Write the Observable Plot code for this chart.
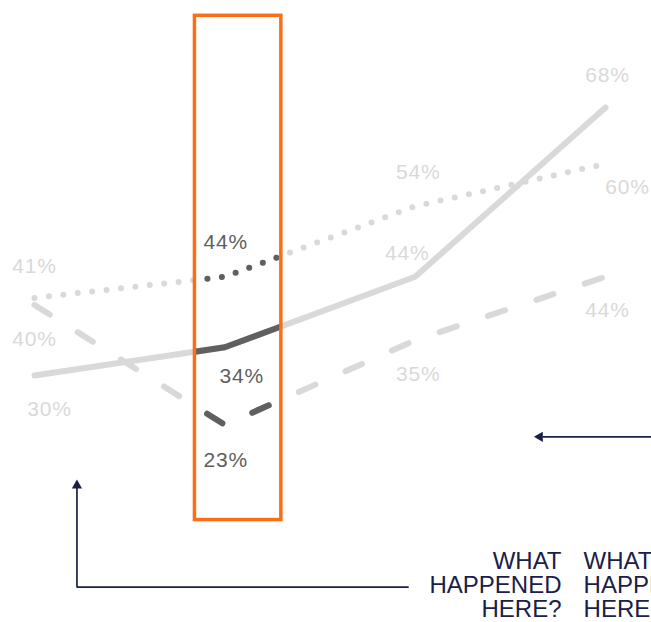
<!DOCTYPE html>
<html><head><meta charset="utf-8">
<script src="https://cdn.jsdelivr.net/npm/d3@7"></script>
<script src="https://cdn.jsdelivr.net/npm/@observablehq/plot@0.6"></script>
<style>
html,body{margin:0;padding:0;background:#fff;overflow:hidden;}
#chart svg{overflow:hidden;display:block;}
</style></head><body><div id="chart"></div>
<script>
// ---- data ----
const periods = [0, 1, 2, 3];
const solidValues = [30, 34, 44, 68];
const dottedValues = [41, 44, 54, 60];
const dashedValues = [40, 23, 35, 44];
const highlightPeriod = [0.843, 1.297];   // highlighted span (period units)
const highlightValue = [9.5, 81];          // vertical extent of highlight (% units)
const questionText = "WHAT\nHAPPENED\nHERE?";
// annotation arrows (period / % units)
const arrowRightPeriod = [3.3, 2.67];
const arrowRightValue = 21.3;
const arrowRightHead = 2.655;
const arrowLeftPeriod = 0.223;
const arrowLeftValue = [0, 14.4];
const arrowLeftTail = 1.963;
const questionPeriod = [2.769, 2.885];
const questionValue = -4.31;

// ---- styling ----
const W = 651, H = 622;
const LIGHT = "#d9d9d9", DARK = "#606060", DARKTXT = "#5f5f5f", ORANGE = "#fa6e15", NAVY = "#1b2048";
const FONT = "Liberation Sans, Arial, sans-serif";

const series = [
  {key: "solid", values: solidValues, dash: null, width: 6,
   offs: [[15,34],[17,29],[-8,-23],[2,-32]]},
  {key: "dotted", values: dottedValues, dash: "0,14.5", width: 6,
   offs: [[0,-32],[1,-34],[3,-34],[22,23]]},
  {key: "dashed", values: dashedValues, dash: "18,33", width: 6,
   offs: [[0,34],[1,35],[3,34],[2,34]]}
];

const marks = [];
for (const s of series) {
  s.rows = periods.map((p, i) => ({p, v: s.values[i]}));
  marks.push(Plot.line(s.rows, {x: "p", y: "v", stroke: LIGHT, strokeWidth: s.width,
    strokeDasharray: s.dash, strokeLinecap: "round", strokeLinejoin: "round"}));
}
for (const s of series) {
  marks.push(Plot.line(s.rows, {x: "p", y: "v", stroke: DARK, strokeWidth: s.width,
    strokeDasharray: s.dash, strokeLinecap: "round", strokeLinejoin: "round", ariaDescription: "highlight"}));
}
for (const s of series) {
  s.rows.forEach((r, i) => {
    const inBox = r.p >= highlightPeriod[0] && r.p <= highlightPeriod[1];
    marks.push(Plot.text([r], {x: "p", y: "v", text: d => d.v + "%",
      dx: s.offs[i][0], dy: s.offs[i][1], fill: inBox ? DARKTXT : LIGHT,
      fontSize: 21, fontFamily: FONT, ariaDescription: "pct"}));
  });
}
marks.push(Plot.rect([{x1: highlightPeriod[0], x2: highlightPeriod[1], y1: highlightValue[0], y2: highlightValue[1]}],
  {x1: "x1", x2: "x2", y1: "y1", y2: "y2", fill: "none", stroke: ORANGE, strokeWidth: 3.5}));
// right arrow
marks.push(Plot.link([{a: arrowRightPeriod[0], b: arrowRightPeriod[1], v: arrowRightValue}],
  {x1: "a", x2: "b", y1: "v", y2: "v", stroke: NAVY, strokeWidth: 1.7}));
marks.push(Plot.dot([{p: arrowRightHead, v: arrowRightValue}],
  {x: "p", y: "v", symbol: "triangle", r: 3.8, fill: NAVY, stroke: "none", rotate: -90}));
// left L-shaped arrow
marks.push(Plot.line([{p: arrowLeftTail, v: arrowLeftValue[0]}, {p: arrowLeftPeriod, v: arrowLeftValue[0]}, {p: arrowLeftPeriod, v: arrowLeftValue[1]}],
  {x: "p", y: "v", stroke: NAVY, strokeWidth: 1.7, strokeLinejoin: "miter"}));
marks.push(Plot.dot([{p: arrowLeftPeriod, v: arrowLeftValue[1]}],
  {x: "p", y: "v", symbol: "triangle", r: 3.8, fill: NAVY, stroke: "none"}));
// question text (twice)
marks.push(Plot.text([{p: questionPeriod[0], v: questionValue}], {x: "p", y: "v", text: () => questionText,
  textAnchor: "end", lineAnchor: "bottom", lineHeight: 1.0, fontSize: 24, fontFamily: FONT, fill: NAVY}));
marks.push(Plot.text([{p: questionPeriod[1], v: questionValue}], {x: "p", y: "v", text: () => questionText,
  textAnchor: "start", lineAnchor: "bottom", lineHeight: 1.0, fontSize: 24, fontFamily: FONT, fill: NAVY}));

const plot = Plot.plot({
  width: W, height: H,
  margin: 0,
  x: {domain: [0, 3], range: [34, 605], axis: null},
  y: {domain: [30, 68], range: [375, 107], axis: null},
  style: {fontFamily: FONT, background: "white"},
  marks
});

const sx = plot.scale("x");
const cx1 = sx.apply(highlightPeriod[0]), cx2 = sx.apply(highlightPeriod[1]);
const svg = d3.select(plot);
svg.insert("defs", ":first-child").append("clipPath").attr("id", "hlclip")
  .append("rect").attr("x", cx1).attr("y", 0).attr("width", cx2 - cx1).attr("height", H);
svg.selectAll('g[aria-description="highlight"]').attr("clip-path", "url(#hlclip)");
svg.selectAll('g[aria-description="pct"] text').style("letter-spacing", "0.8px");
document.getElementById("chart").append(plot);
</script></body></html>
